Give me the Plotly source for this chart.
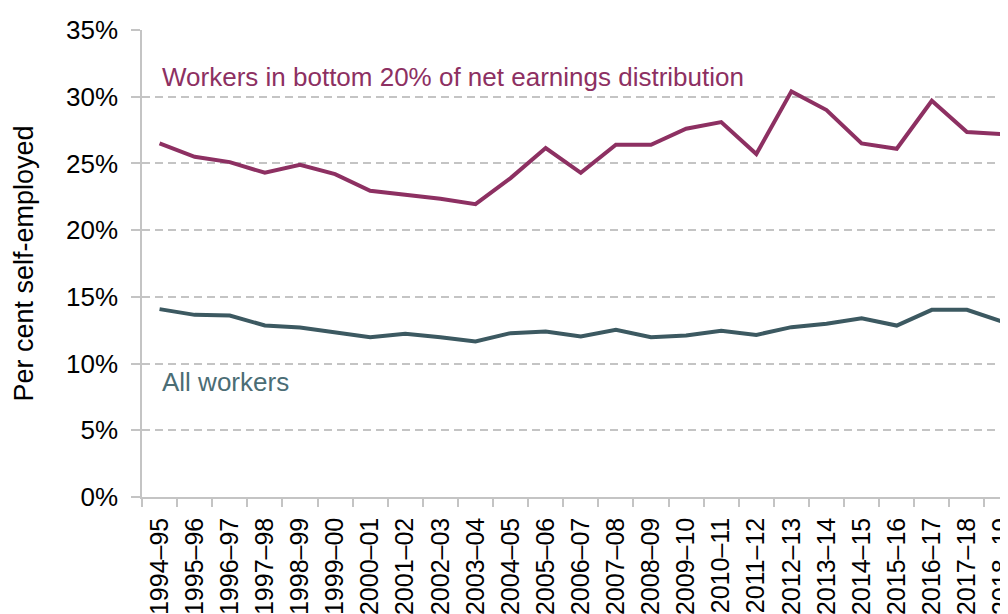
import plotly.graph_objects as go

years = ["1994–95", "1995–96", "1996–97", "1997–98", "1998–99", "1999–00",
         "2000–01", "2001–02", "2002–03", "2003–04", "2004–05", "2005–06",
         "2006–07", "2007–08", "2008–09", "2009–10", "2010–11", "2011–12",
         "2012–13", "2013–14", "2014–15", "2015–16", "2016–17", "2017–18",
         "2018–19"]

bottom20 = [26.5, 25.5, 25.1, 24.3, 24.9, 24.2, 22.95, 22.65, 22.35, 21.95,
            23.9, 26.15, 24.3, 26.4, 26.4, 27.6, 28.1, 25.7, 30.4, 29.0,
            26.5, 26.1, 29.7, 27.35, 27.2]

all_workers = [14.08, 13.65, 13.6, 12.85, 12.7, 12.35, 11.98, 12.23, 11.98, 11.65,
               12.28, 12.4, 12.03, 12.53, 11.98, 12.1, 12.45, 12.15, 12.73, 12.98,
               13.4, 12.85, 14.03, 14.03, 13.15]

PURPLE = "#8D3062"
TEAL = "#3C5961"
TEAL_TEXT = "#4B6D75"
GRID = "#C4C4C4"
FONT = "Arial, Liberation Sans, sans-serif"

fig = go.Figure()
fig.add_trace(go.Scatter(x=years, y=bottom20, mode="lines",
                         line=dict(color=PURPLE, width=4), showlegend=False))
fig.add_trace(go.Scatter(x=years, y=all_workers, mode="lines",
                         line=dict(color=TEAL, width=4), showlegend=False))

fig.add_annotation(x=0, xref="paper", xanchor="left", xshift=18,
                   y=31.5, yref="y", yanchor="middle",
                   text="Workers in bottom 20% of net earnings distribution",
                   showarrow=False, font=dict(size=26, color=PURPLE, family=FONT))
fig.add_annotation(x=0, xref="paper", xanchor="left", xshift=18,
                   y=8.6, yref="y", yanchor="middle",
                   text="All workers",
                   showarrow=False, font=dict(size=26, color=TEAL_TEXT, family=FONT))

# page body adds an 8px margin, so the figure is 8px smaller on each side
fig.update_layout(
    width=1000, height=606,
    margin=dict(l=134, r=0, t=22, b=117, autoexpand=False),
    plot_bgcolor="white", paper_bgcolor="white",
    font=dict(family=FONT, color="#000000"),
)
fig.update_xaxes(
    type="category", range=[-0.5, 24.17], tickson="boundaries",
    showline=True, linecolor=GRID, linewidth=1.5,
    ticks="outside", ticklen=8, tickcolor=GRID, tickwidth=1.5,
    tickangle=-90, tickfont=dict(size=25, color="#000000", family=FONT),
    showgrid=False, automargin=False, ticklabelstandoff=9,
)
fig.update_yaxes(
    range=[0, 35], dtick=5, ticksuffix="%",
    showline=True, linecolor=GRID, linewidth=1.5,
    ticks="outside", ticklen=9, tickcolor=GRID, tickwidth=1.5,
    showgrid=True, gridcolor=GRID, gridwidth=1.5, griddash="8px,5px",
    zeroline=False, tickfont=dict(size=26, color="#000000", family=FONT),
    title=dict(text="Per cent self-employed", font=dict(size=27, color="#000000", family=FONT),
               standoff=25),
    automargin=False, ticklabelstandoff=8,
)

fig.write_html("out.html")
